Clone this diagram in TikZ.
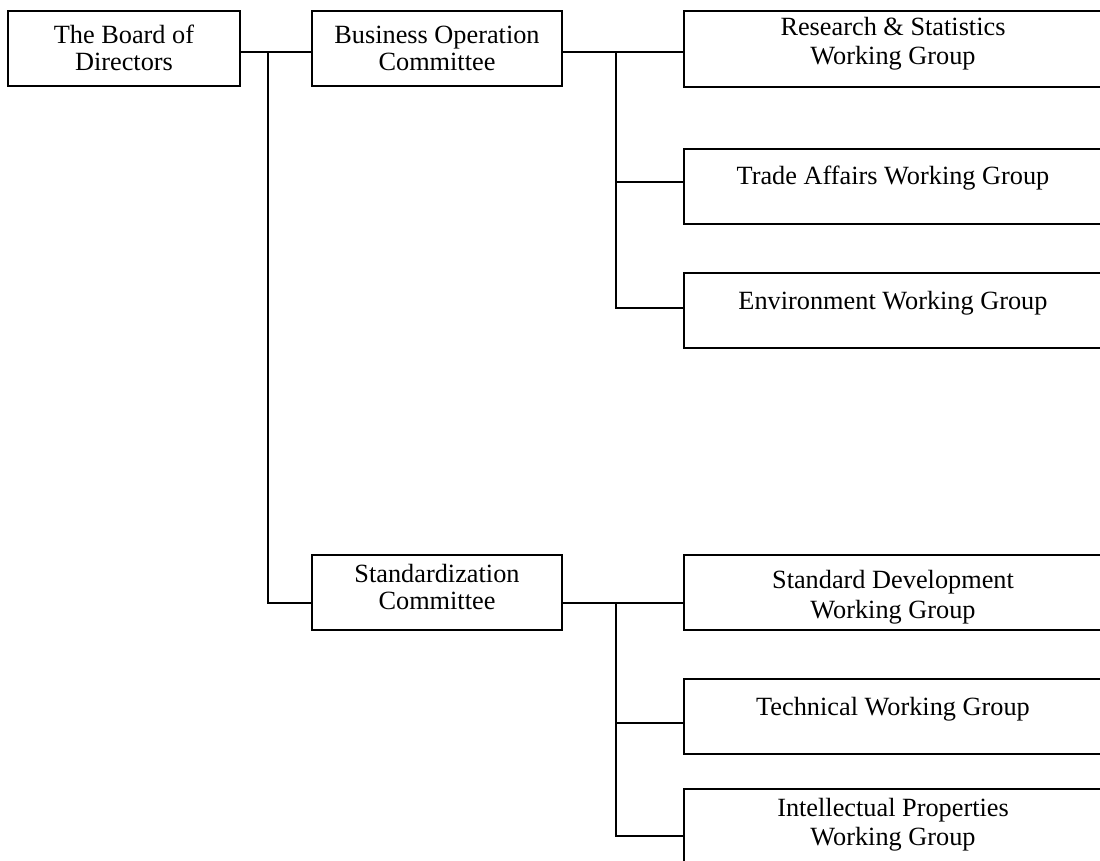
\documentclass[tikz,border=0pt]{standalone}
\usepackage{fontspec}
\setmainfont{Liberation Serif}
\begin{document}
\begin{tikzpicture}[x=1pt,y=-1pt,
  box/.style={draw, line width=1.7pt, inner sep=0pt, rectangle},
  lbl/.style={anchor=base, inner sep=0pt, font=\fontsize{26.3}{30}\selectfont},
  conn/.style={line width=1.7pt}]
\clip (0,0) rectangle (1100,861);
\fill[white] (0,0) rectangle (1100,861);

% boxes
\node[box, minimum width=232pt, minimum height=75pt] (board) at (124,48.5) {};
\node[box, minimum width=250pt, minimum height=75pt] (bus) at (437,48.5) {};
\node[box, minimum width=250pt, minimum height=75pt] (std) at (437,592.5) {};
\node[box, minimum width=418pt, minimum height=76pt] (rs) at (893,49) {};
\node[box, minimum width=418pt, minimum height=75pt] (trade) at (893,186.5) {};
\node[box, minimum width=418pt, minimum height=75pt] (env) at (893,310.5) {};
\node[box, minimum width=418pt, minimum height=75pt] (sd) at (893,592.5) {};
\node[box, minimum width=418pt, minimum height=75pt] (tech) at (893,716.5) {};
\node[box, minimum width=418pt, minimum height=75pt] (ip) at (893,826.5) {};

% texts
\node[lbl] (board-t1) at (124,44) {The Board of};
\node[lbl] (board-t2) at (124,71) {Directors};
\node[lbl] (bus-t1) at (437,44) {Business Operation};
\node[lbl] (bus-t2) at (437,71) {Committee};
\node[lbl] (std-t1) at (437,582) {Standardization};
\node[lbl] (std-t2) at (437,609) {Committee};
\node[lbl] (rs-t1) at (893,36) {Research \& Statistics};
\node[lbl] (rs-t2) at (893,65) {Working Group};
\node[lbl] (trade-t) at (893,185) {Trade Affairs Working Group};
\node[lbl] (env-t) at (893,309) {Environment Working Group};
\node[lbl] (sd-t1) at (893,588) {Standard Development};
\node[lbl] (sd-t2) at (893,618) {Working Group};
\node[lbl] (tech-t) at (893,715) {Technical Working Group};
\node[lbl] (ip-t1) at (893,816) {Intellectual Properties};
\node[lbl] (ip-t2) at (893,845) {Working Group};

% junction coordinates
\coordinate (jA) at (268,52);
\coordinate (sA) at (268,603);
\coordinate (jB) at (616,52);
\coordinate (tB) at (616,182);
\coordinate (eB) at (616,308);
\coordinate (jC) at (616,603);
\coordinate (tC) at (616,723);
\coordinate (iC) at (616,836);

% connectors
\draw[conn] (board.east |- jA) -- (bus.west |- jA);
\draw[conn] (jA) -- (sA) -- (std.west |- sA);
\draw[conn] (bus.east |- jB) -- (rs.west |- jB);
\draw[conn] (jB) -- (eB) -- (env.west |- eB);
\draw[conn] (tB) -- (trade.west |- tB);
\draw[conn] (std.east |- jC) -- (sd.west |- jC);
\draw[conn] (jC) -- (iC) -- (ip.west |- iC);
\draw[conn] (tC) -- (tech.west |- tC);
\end{tikzpicture}
\end{document}
